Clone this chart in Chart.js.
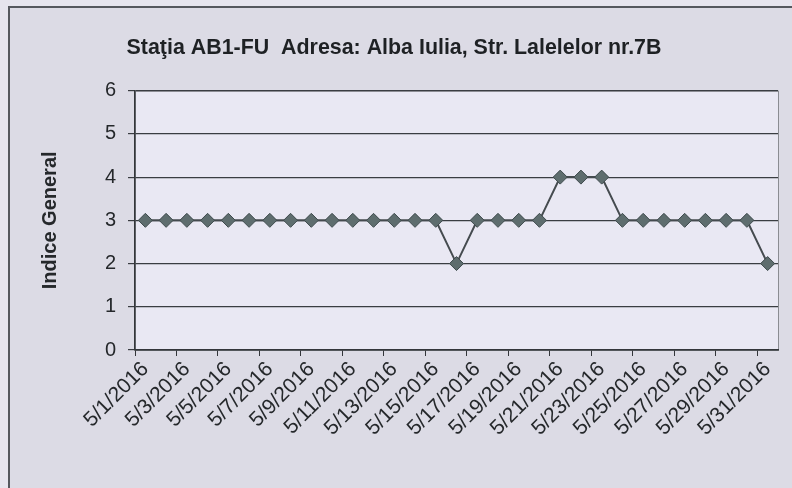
<!DOCTYPE html>
<html>
<head>
<meta charset="utf-8">
<script src="https://cdn.jsdelivr.net/npm/chart.js@4/dist/chart.umd.min.js"></script>
<style>
  html, body { margin: 0; padding: 0; background: #e4e3ec; }
  #wrap { width: 792px; height: 488px; }
</style>
</head>
<body>
<div id="wrap"><canvas id="myChart" width="792" height="488"></canvas></div>
<script>
// data: 31 days of May 2016
const days = [
    '5/1/2016', '5/2/2016', '5/3/2016', '5/4/2016', '5/5/2016', '5/6/2016', '5/7/2016', '5/8/2016',
    '5/9/2016', '5/10/2016', '5/11/2016', '5/12/2016', '5/13/2016', '5/14/2016', '5/15/2016', '5/16/2016',
    '5/17/2016', '5/18/2016', '5/19/2016', '5/20/2016', '5/21/2016', '5/22/2016', '5/23/2016', '5/24/2016',
    '5/25/2016', '5/26/2016', '5/27/2016', '5/28/2016', '5/29/2016', '5/30/2016', '5/31/2016'
];
const indiceGeneral = [
    3, 3, 3, 3, 3, 3, 3, 3, 3, 3, 3, 3, 3, 3, 3, 2,
    3, 3, 3, 3, 4, 4, 4, 3, 3, 3, 3, 3, 3, 3, 2
];
const yTicks = [0, 1, 2, 3, 4, 5, 6];

const chartTitle = 'Staţia AB1-FU  Adresa: Alba Iulia, Str. Lalelelor nr.7B';
const yTitle = 'Indice General';

// page background, chart frame and plot area
const paperPlugin = {
    id: 'paper',
    beforeDraw(chart) {
        const c = chart.ctx;
        const a = chart.chartArea;
        c.save();
        c.fillStyle = '#e6e5ee';
        c.fillRect(0, 0, chart.width, chart.height);
        c.fillStyle = '#dcdbe5';
        c.fillRect(9, 7, chart.width - 9, chart.height - 7);
        c.strokeStyle = '#55585e';
        c.lineWidth = 2;
        c.beginPath();
        c.moveTo(9, chart.height);
        c.lineTo(9, 7);
        c.lineTo(chart.width, 7);
        c.stroke();
        c.fillStyle = '#e9e8f3';
        c.fillRect(a.left, a.top, a.right - a.left, a.bottom - a.top);
        c.strokeStyle = '#8a8c92';
        c.lineWidth = 1;
        c.strokeRect(a.left + 0.5, a.top + 0.5, a.right - a.left, a.bottom - a.top);
        c.restore();
    }
};

const ctx = document.getElementById('myChart').getContext('2d');
const myChart = new Chart(ctx, {
    type: 'line',
    data: {
        labels: days,
        datasets: [{
            label: yTitle,
            data: indiceGeneral,
            borderColor: '#454b4f',
            borderWidth: 2,
            backgroundColor: '#5e6d6e',
            pointStyle: 'rectRot',
            pointRadius: 7,
            pointBorderColor: '#3e4a4c',
            pointBorderWidth: 1,
            tension: 0
        }]
    },
    options: {
        responsive: false,
        animation: false,
        layout: {
            padding: { left: 10, right: 14, top: 0, bottom: 8 }
        },
        plugins: {
            legend: { display: false },
            tooltip: { enabled: false },
            title: {
                display: true,
                text: chartTitle,
                color: '#1e2124',
                font: { family: 'Liberation Sans, Arial, sans-serif', size: 21.4, weight: 'bold' },
                padding: { top: 35, bottom: 30 }
            }
        },
        scales: {
            x: {
                offset: true,
                grid: {
                    offset: true,
                    drawOnChartArea: false,
                    drawTicks: true,
                    tickLength: 6,
                    color: (c) => (c.index % 2 === 0 ? '#33363a' : 'rgba(0,0,0,0)')
                },
                border: { display: true, color: '#33363a', width: 1.5 },
                ticks: {
                    autoSkip: false,
                    maxRotation: 45,
                    minRotation: 45,
                    padding: 1,
                    color: '#25282b',
                    font: { family: 'Liberation Sans, Arial, sans-serif', size: 21 },
                    callback: function (value, index) {
                        return index % 2 === 0 ? days[index] : '';
                    }
                },
                afterFit(scale) { scale.height = 130; }
            },
            y: {
                min: 0,
                max: 6,
                afterBuildTicks(scale) { scale.ticks = yTicks.map(v => ({ value: v })); },
                grid: {
                    color: '#3a3d42',
                    lineWidth: 1.2,
                    tickLength: 7,
                    drawTicks: true
                },
                border: { display: true, color: '#33363a', width: 1.5 },
                ticks: {
                    padding: 12,
                    color: '#25282b',
                    font: { family: 'Liberation Sans, Arial, sans-serif', size: 20 }
                },
                title: {
                    display: true,
                    text: yTitle,
                    color: '#25282b',
                    font: { family: 'Liberation Sans, Arial, sans-serif', size: 20, weight: 'bold' },
                    padding: { top: 28, bottom: 0 }
                },
                afterFit(scale) { scale.width = 125; }
            }
        }
    },
    plugins: [paperPlugin]
});
</script>
</body>
</html>
